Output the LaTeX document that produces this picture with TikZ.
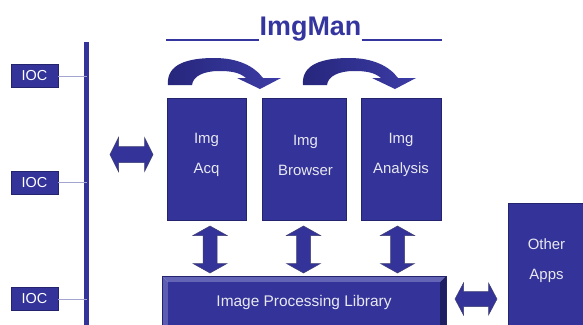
\documentclass[tikz,border=0pt]{standalone}
\usepackage{fontspec}
\setmainfont{Liberation Sans}
\definecolor{navy}{HTML}{333399}
\definecolor{navyd}{HTML}{24246E}
\definecolor{navyl}{HTML}{6464B6}
\definecolor{bevd}{HTML}{1E1E62}
\definecolor{arrd}{HTML}{26267C}
\definecolor{arrl}{HTML}{3C3CA6}
\definecolor{linec}{HTML}{A4A4D0}
\definecolor{txt}{HTML}{E8E8F0}
\definecolor{title}{HTML}{3535A0}
\begin{document}
\begin{tikzpicture}[x=1bp,y=-1bp,
  appbox/.style={draw=navyd, line width=0.5bp, fill=navy, inner sep=0pt, rectangle},
  boxtxt/.style={text=txt, font=\fontsize{15}{30}\selectfont, align=center, inner sep=0pt},
  iocbox/.style={draw=navyd, line width=0.5bp, fill=navy, text=white, inner sep=0pt,
    minimum width=47bp, minimum height=23bp, font=\fontsize{14.5}{16}\selectfont},
  dblstyle/.style={fill=navy, draw=navyd!70!gray, line width=0.5bp},
  curv/.style={left color=arrd, right color=arrl, draw=none},
  iocline/.style={linec, line width=1bp},
  pics/dblarrow/.style args={#1/#2/#3/#4}{code={
    \pgfmathsetmacro{\hl}{#1/2}\pgfmathsetmacro{\hw}{#2/2}
    \pgfmathsetmacro{\hs}{#3/2}\pgfmathsetmacro{\nk}{#1/2-#4}
    \filldraw[dblstyle] (-\hl,0) -- (-\nk,-\hw) -- (-\nk,-\hs) -- (\nk,-\hs) -- (\nk,-\hw)
      -- (\hl,0) -- (\nk,\hw) -- (\nk,\hs) -- (-\nk,\hs) -- (-\nk,\hw) -- cycle;
    \coordinate (-c) at (0,0);
  }}
]
\clip (0,0) rectangle (583,324);
\useasboundingbox (0,0) rectangle (583,324);
\fill[white] (0,0) rectangle (583,324);

% title
\node[anchor=base, text=title, font=\bfseries\fontsize{27}{30}\selectfont, inner sep=0pt] (ttl) at (310.5,35) {ImgMan};
\draw[title, line width=2.5bp] (166,40) -- (ttl.base west |- 0,40);
\draw[title, line width=2.5bp] (ttl.base east |- 0,40) -- (442,40);

% bus
\coordinate (bustop) at (86.5,42);
\coordinate (busbot) at (86.5,330);
\draw[navy, line width=5bp] (bustop) -- (busbot);

% IOCs
\node[iocbox] (ioc1) at (34.5,76) {IOC};
\node[iocbox] (ioc2) at (34.5,182.5) {IOC};
\node[iocbox] (ioc3) at (34.5,299) {IOC};
\draw[iocline] (ioc1.east) -- (ioc1.east -| bustop);
\draw[iocline] (ioc2.east) -- (ioc2.east -| bustop);
\draw[iocline] (ioc3.east) -- (ioc3.east -| bustop);

% application boxes
\node[appbox, minimum width=79bp, minimum height=122bp] (acq) at (206.5,159) {};
\node[appbox, minimum width=84bp, minimum height=122bp] (brw) at (304,159) {};
\node[appbox, minimum width=80bp, minimum height=122bp] (ana) at (401,159) {};
\node[boxtxt] (acqt) at (206.5,155) {Img\\Acq};
\node[boxtxt] (brwt) at (305.5,155) {Img\\Browser};
\node[boxtxt] (anat) at (401,155) {Img\\Analysis};

% other apps
\node[appbox, minimum width=82bp, minimum height=127bp] (oth) at (549,266.5) {};
\node[boxtxt] (otht) at (546.5,261) {Other\\Apps};

% image processing library (bevelled)
\coordinate (iplnw) at (162,276);
\coordinate (iplse) at (446,334);
\fill[navyl] (162,276) -- (446,276) -- (440,282) -- (168,282) -- cycle;
\fill[navyl!85!navy] (162,276) -- (168,282) -- (168,328) -- (162,334) -- cycle;
\fill[bevd] (446,276) -- (446,334) -- (440,328) -- (440,282) -- cycle;
\fill[navy] (168,282) rectangle (440,328);
\draw[navyd, line width=0.5bp] (iplnw) rectangle (iplse);
\node[boxtxt, font=\fontsize{15.5}{18}\selectfont] (ipl) at (304,302) {Image Processing Library};

% double arrows: length / head width / shaft width / head length
\pic (ha1) at (131.5,154.5) {dblarrow=43/34/16/8.5};
\pic (ha2) at (476,299) {dblarrow=42/32/15/8.5};
\pic[rotate=-90] (va1) at (210,249.5) {dblarrow=47/34/14/9.5};
\pic[rotate=-90] (va2) at (303.5,249.5) {dblarrow=47/34/14/9.5};
\pic[rotate=-90] (va3) at (397.5,249.5) {dblarrow=47/34/14/9.5};

% curved arrows
\foreach \dx in {0,135}{
  \begin{scope}[xshift=\dx bp]
  \shade[curv] (168,85) .. controls (166,64) and (188,58) .. (214,58)
      .. controls (238,58) and (254,66) .. (263,78)
      -- (281,78) -- (260,89) -- (237,78) -- (246,78)
      .. controls (239,72) and (230,71) .. (219,71)
      .. controls (204,71) and (193,76) .. (192,85) -- cycle;
  \end{scope}
}
\end{tikzpicture}
\end{document}
